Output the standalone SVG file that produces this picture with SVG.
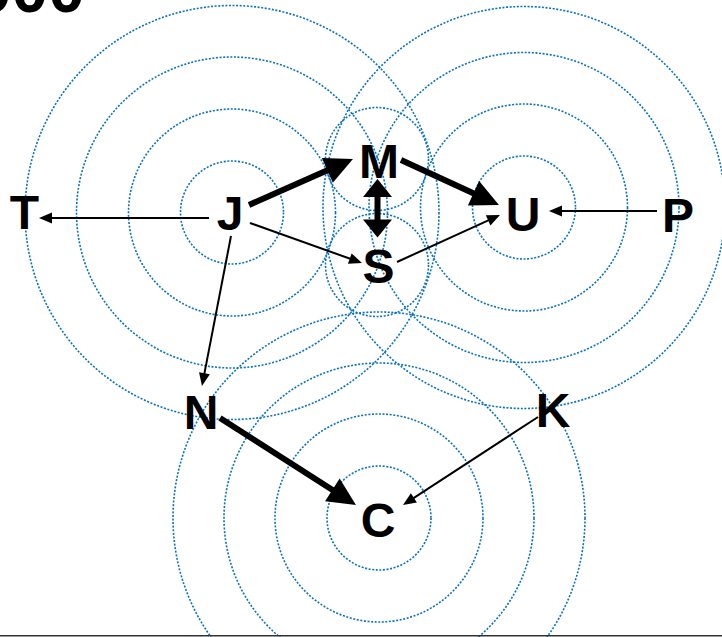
<svg xmlns="http://www.w3.org/2000/svg" width="722" height="637" viewBox="0 0 722 637">
<style>
.ring{fill:none;stroke:#0a72c4;stroke-width:1.6;stroke-dasharray:2 1.6}
.thin{stroke:#000;stroke-width:2;fill:none;marker-end:url(#hThin)}
.thick{stroke:#000;stroke-width:6;fill:none;marker-end:url(#hThick)}
.dbl{stroke:#000;stroke-width:6;fill:none;marker-start:url(#hDbl);marker-end:url(#hDbl)}
.lbl{font-family:"Liberation Sans",Arial,sans-serif;font-weight:bold;font-size:48px;fill:#000;text-anchor:middle}
</style>
<defs>
<marker id="hThin" markerUnits="userSpaceOnUse" markerWidth="13" markerHeight="11" refX="5" refY="5.5" orient="auto" overflow="visible"><path d="M0,0 L13,5.5 L0,11 z" fill="#000"/></marker>
<marker id="hThick" markerUnits="userSpaceOnUse" markerWidth="28" markerHeight="27" refX="10" refY="13.5" orient="auto" overflow="visible"><path d="M0,0 L28,13.5 L0,27 z" fill="#000"/></marker>
<marker id="hDbl" markerUnits="userSpaceOnUse" markerWidth="18" markerHeight="29" refX="6" refY="14.5" orient="auto-start-reverse" overflow="visible"><path d="M0,0 L18,14.5 L0,29 z" fill="#000"/></marker>
</defs>
<rect x="0" y="0" width="722" height="637" fill="#fff"/>
<text x="85" y="12" font-family="Liberation Sans,Arial,sans-serif" font-weight="bold" font-size="66" text-anchor="end" fill="#000">000</text>
<g id="ripples">
<circle class="ring" cx="232" cy="212.5" r="51.5"/>
<circle class="ring" cx="232" cy="212.5" r="103.5"/>
<circle class="ring" cx="232" cy="212.5" r="155.5"/>
<circle class="ring" cx="232" cy="212.5" r="207"/>
<circle class="ring" cx="524" cy="207.5" r="51.5"/>
<circle class="ring" cx="524" cy="207.5" r="103.5"/>
<circle class="ring" cx="524" cy="207.5" r="155"/>
<circle class="ring" cx="524" cy="207.5" r="201"/>
<circle class="ring" cx="379" cy="518" r="52"/>
<circle class="ring" cx="379" cy="518" r="104"/>
<circle class="ring" cx="379" cy="518" r="155"/>
<circle class="ring" cx="379" cy="518" r="206"/>
<circle class="ring" cx="377" cy="159" r="51.5"/>
<circle class="ring" cx="377" cy="265" r="51.5"/>
</g>
<g id="connectors">
<line class="thin" x1="209" y1="218" x2="47" y2="218"/>
<line class="thin" x1="250" y1="223" x2="354.5" y2="260.3"/>
<line class="thin" x1="231" y1="236" x2="203.5" y2="378.1"/>
<line class="thin" x1="397" y1="262" x2="492.7" y2="218.3"/>
<line class="thin" x1="657" y1="211" x2="557" y2="211"/>
<line class="thin" x1="538" y1="417" x2="409.7" y2="500.6"/>
<line class="thick" x1="249" y1="205" x2="336.5" y2="166.3"/>
<line class="thick" x1="401" y1="160" x2="482.6" y2="197.5"/>
<line class="thick" x1="220" y1="418" x2="340.8" y2="495.3"/>
<line class="dbl" x1="377.5" y1="191" x2="377.5" y2="225.5"/>
</g>
<g id="node-T"><text class="lbl" x="24.5" y="229">T</text></g>
<g id="node-J"><text class="lbl" x="230" y="229.5">J</text></g>
<g id="node-M"><text class="lbl" x="379" y="178">M</text></g>
<g id="node-S"><text class="lbl" x="378.5" y="283">S</text></g>
<g id="node-U"><text class="lbl" x="523" y="231">U</text></g>
<g id="node-P"><text class="lbl" x="678" y="231.5">P</text></g>
<g id="node-N"><text class="lbl" x="201" y="429">N</text></g>
<g id="node-K"><text class="lbl" x="553" y="427">K</text></g>
<g id="node-C"><text class="lbl" x="378" y="537">C</text></g>
<line x1="0" y1="635.8" x2="722" y2="635.8" stroke="#333" stroke-width="1.5"/>
</svg>
